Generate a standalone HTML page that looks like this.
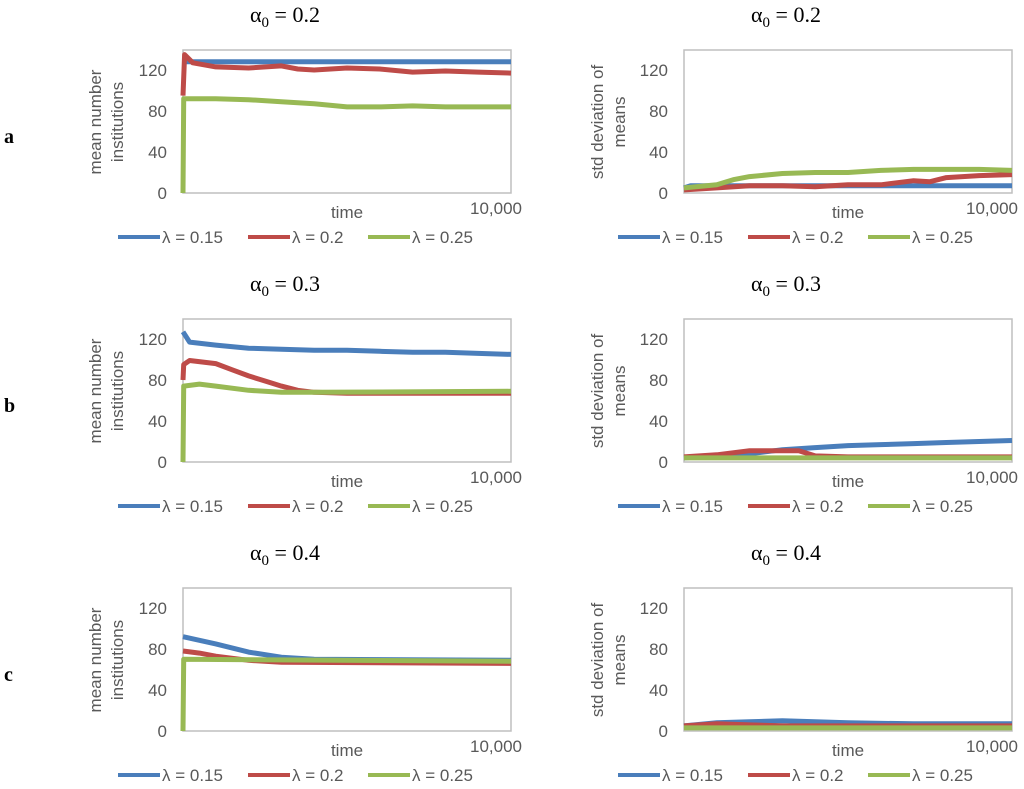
<!DOCTYPE html>
<html><head><meta charset="utf-8"><style>
body{margin:0;background:#fff;}
svg{display:block;}
.tk{font-family:"Liberation Sans",sans-serif;font-size:17px;fill:#595959;}
.tt{font-family:"Liberation Serif","DejaVu Serif",serif;font-size:22px;fill:#000;}
.rl{font-family:"Liberation Serif",serif;font-size:20px;font-weight:bold;fill:#000;}
</style></head><body>
<svg id="chart" width="1024" height="789" viewBox="0 0 1024 789"></svg>
<script>
const colors=["#4a7ebb","#be4b48","#98b954"];
const seriesNames=["λ = 0.15","λ = 0.2","λ = 0.25"];
const yTicks=[0,40,80,120];
const titles=["0.2","0.2","0.3","0.3","0.4","0.4"];
const rowLabels=["a","b","c"];
const aL_blue_t=[0,10000],aL_blue_v=[128,128];
const aL_red_t=[0,50,300,1000,2000,3000,3500,4000,5000,6000,7000,8000,9000,10000];
const aL_red_v=[95,135,127,123,122,124,121,120,122,121,118,119,118,117];
const aL_green_t=[0,20,1000,2000,3000,4000,5000,6000,7000,8000,9000,10000];
const aL_green_v=[0,92,92,91,89,87,84,84,85,84,84,84];
const aR_blue_t=[0,200,10000],aR_blue_v=[5,7,7];
const aR_red_t=[0,1000,2000,3000,4000,5000,6000,7000,7500,8000,9000,10000];
const aR_red_v=[3,5,7,7,6,8,8,12,11,15,17,18];
const aR_green_t=[0,1000,1500,2000,3000,4000,5000,6000,7000,8000,9000,10000];
const aR_green_v=[5,8,13,16,19,20,20,22,23,23,23,22];
const bL_blue_t=[0,200,1000,2000,3000,4000,5000,6000,7000,8000,9000,10000];
const bL_blue_v=[127,117,114,111,110,109,109,108,107,107,106,105];
const bL_red_t=[0,20,200,1000,1500,2000,2500,3000,3500,4000,5000,10000];
const bL_red_v=[80,95,99,96,90,84,79,74,70,68,67,67];
const bL_green_t=[0,20,500,1000,2000,3000,4000,10000];
const bL_green_v=[0,74,76,74,70,68,68,69];
const bR_blue_t=[0,2000,3000,4000,5000,6000,7000,8000,9000,10000];
const bR_blue_v=[4,8,12,14,16,17,18,19,20,21];
const bR_red_t=[0,1000,2000,3000,3500,4000,5000,10000];
const bR_red_v=[5,7,11,11,11,6,5,5];
const bR_green_t=[0,10000],bR_green_v=[4,4];
const cL_blue_t=[0,1000,2000,3000,4000,10000];
const cL_blue_v=[92,85,77,72,70,69];
const cL_red_t=[0,500,1000,2000,3000,10000];
const cL_red_v=[78,76,73,69,67,66];
const cL_green_t=[0,20,10000],cL_green_v=[0,70,68];
const cR_blue_t=[0,1000,2000,3000,4000,5000,7000,10000];
const cR_blue_v=[5,8,9,10,9,8,7,7];
const cR_red_t=[0,1000,2000,3000,10000];
const cR_red_v=[5,7,6,5,5];
const cR_green_t=[0,10000],cR_green_v=[3,3];
const panels=[
 [[aL_blue_t,aL_blue_v],[aL_red_t,aL_red_v],[aL_green_t,aL_green_v]],
 [[aR_blue_t,aR_blue_v],[aR_red_t,aR_red_v],[aR_green_t,aR_green_v]],
 [[bL_blue_t,bL_blue_v],[bL_red_t,bL_red_v],[bL_green_t,bL_green_v]],
 [[bR_blue_t,bR_blue_v],[bR_red_t,bR_red_v],[bR_green_t,bR_green_v]],
 [[cL_blue_t,cL_blue_v],[cL_red_t,cL_red_v],[cL_green_t,cL_green_v]],
 [[cR_blue_t,cR_blue_v],[cR_red_t,cR_red_v],[cR_green_t,cR_green_v]]
];
const NS="http://www.w3.org/2000/svg";
const svg=document.getElementById('chart');
function mk(tag,attrs,parent,text){const e=document.createElementNS(NS,tag);for(const k in attrs)e.setAttribute(k,attrs[k]);if(text!==undefined)e.textContent=text;(parent||svg).appendChild(e);return e;}
for(let r=0;r<3;r++){
  const lab=mk('text',{x:4,y:143+269*r,class:'rl'},svg,rowLabels[r]);
  
  
}
for(let p=0;p<6;p++){
  const r=Math.floor(p/2),c=p%2;
  const dx=c*501, y0=193+269*r;
  const x0=183+dx, x1=511+dx, yt=y0-143;
  const sx=t=>x0+(x1-x0)*t/10000;
  const sy=v=>y0-v*1.025;
  const g=mk('g',{});
  
  
  const t=mk('text',{x:250+dx,y:22+269*r,class:'tt'},g);
  
  
  t.innerHTML='α<tspan font-size="15" dy="5">0</tspan><tspan dy="-5"> = '+titles[p]+'</tspan>';
  const box=mk('rect',{x:x0,y:yt,width:x1-x0,height:y0-yt,fill:'none',stroke:'#bfbfbf','stroke-width':1.5},g);
  
  
  for(const v of yTicks){
    const tl=mk('text',{x:x0-16,y:sy(v)+6,class:'tk','text-anchor':'end','font-size':'18'},g,String(v));
    
    
  }
  const lines=c?["std deviation of","means"]:["mean number","institutions"];
  const ax=c?603:101, cy=y0-71;
  lines.forEach((s,i)=>{
    const yl=mk('text',{x:0,y:0,class:'tk','text-anchor':'middle',transform:`translate(${ax+i*22},${cy}) rotate(-90)`,'font-size':'20'},g,s);
    
    
  });
  const xt=mk('text',{x:347+dx,y:y0+25,class:'tk','text-anchor':'middle','font-size':'19'},g,'time');
  
  
  const xe=mk('text',{x:c?x1+6:x1+11,y:y0+21,class:'tk','text-anchor':'end','font-size':'19'},g,'10,000');
  
  
  panels[p].forEach((s,i)=>{
    const d=s[0].map((tt,k)=>(k?'L':'M')+sx(tt).toFixed(1)+','+sy(s[1][k]).toFixed(1)).join(' ');
    const pl=mk('path',{d:d,fill:'none',stroke:colors[i],'stroke-width':5,'stroke-linejoin':'round'},g);
    
    
  });
  const ly=237+269*r;
  const lx=[118,248,368];
  seriesNames.forEach((n,i)=>{
    const lg=mk('g',{},g);
    
    
    mk('line',{x1:lx[i]+dx-1*c,x2:lx[i]+42+dx-1*c,y1:ly,y2:ly,stroke:colors[i],'stroke-width':4},lg);
    mk('text',{x:lx[i]+44+dx-1*c,y:ly+6,class:'tk'},lg,n);
  });
}
</script>
</body></html>
